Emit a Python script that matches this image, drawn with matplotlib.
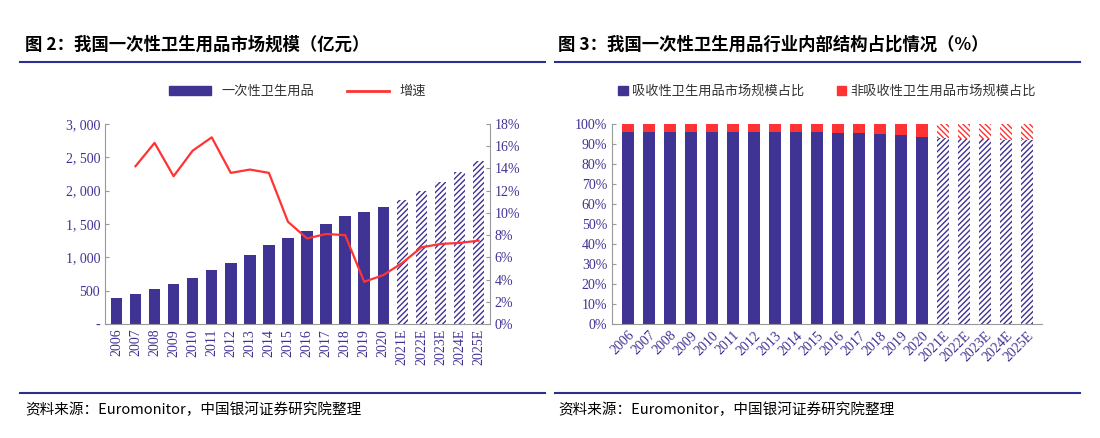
import matplotlib.pyplot as plt
from matplotlib.lines import Line2D
import numpy as np

plt.rcParams["font.family"] = ["Noto Sans CJK SC", "DejaVu Sans"]
plt.rcParams["hatch.linewidth"] = 1.0

years = ["2006", "2007", "2008", "2009", "2010", "2011", "2012", "2013", "2014", "2015",
         "2016", "2017", "2018", "2019", "2020", "2021E", "2022E", "2023E", "2024E", "2025E"]
n_actual = 15
market_size = [390, 450, 525, 595, 690, 805, 910, 1040, 1180, 1290,
               1390, 1500, 1620, 1685, 1755, 1860, 1990, 2130, 2285, 2450]
growth = [None, 14.2, 16.3, 13.3, 15.6, 16.8, 13.6, 13.9, 13.6, 9.2,
          7.7, 8.1, 8.0, 3.8, 4.4, 5.5, 6.9, 7.2, 7.3, 7.5]
absorbent_share = [96.2, 96.2, 96.2, 96.2, 96.1, 96.1, 96.0, 96.0, 96.0, 95.8,
                   95.6, 95.4, 95.1, 94.7, 93.6, 93.0, 92.7, 92.4, 92.1, 91.9]
left_yticks = ["-", "500", "1, 000", "1, 500", "2, 000", "2, 500", "3, 000"]

BLUE = "#3F3393"
RED = "#FF3333"
TXT = "#3F3393"

fig = plt.figure(figsize=(11, 4.38), dpi=100)

# titles, rules and source lines
fig.text(25 / 1100, 1 - 45 / 438, "图 2：我国一次性卫生用品市场规模（亿元）", fontsize=12.5,
         fontweight="bold", va="center")
fig.text(558 / 1100, 1 - 45 / 438, "图 3：我国一次性卫生用品行业内部结构占比情况（%）", fontsize=12.5,
         fontweight="bold", va="center")
for x0, x1 in [(20, 545), (555, 1080)]:
    for y in (62, 393):
        fig.add_artist(Line2D([x0 / 1100, x1 / 1100], [1 - y / 438] * 2, color="#2B2F8F", lw=1.5))
fig.text(25 / 1100, 1 - 410 / 438, "资料来源：Euromonitor，中国银河证券研究院整理", fontsize=10.5,
         style="italic", va="center")
fig.text(558 / 1100, 1 - 410 / 438, "资料来源：Euromonitor，中国银河证券研究院整理", fontsize=10.5,
         style="italic", va="center")

x = np.arange(len(years))

# left chart
ax = fig.add_axes([105 / 1100, 1 - 324 / 438, 385 / 1100, 200 / 438])
for i in x:
    if i < n_actual:
        ax.bar(i, market_size[i], width=0.6, color=BLUE)
    else:
        ax.bar(i, market_size[i], width=0.6, color="white", edgecolor=BLUE, hatch="//////", lw=0)
ax.set_ylim(0, 3000)
ax.set_xlim(-0.6, len(years) - 0.4)
ax.set_yticks(range(0, 3001, 500))
ax.set_yticklabels(left_yticks, fontfamily="Liberation Serif", fontsize=10, color=TXT)
ax.set_xticks(x)
ax.set_xticklabels(years, rotation=90, fontfamily="Liberation Serif", fontsize=10, color=TXT)
for s in ["top", "right"]:
    ax.spines[s].set_visible(False)
for s in ["left", "bottom"]:
    ax.spines[s].set_color("#999999")
ax.tick_params(axis="x", length=0)
ax.tick_params(axis="y", direction="in", color="#999999", length=3)

ax2 = ax.twinx()
gx = [i for i in x if growth[i] is not None]
ax2.plot(gx, [growth[i] for i in gx], color=RED, lw=1.6)
ax2.set_ylim(0, 18)
ax2.set_yticks(range(0, 19, 2))
ax2.set_yticklabels([f"{v}%" for v in range(0, 19, 2)], fontfamily="Liberation Serif",
                    fontsize=10, color=TXT)
for s in ["top", "left", "bottom"]:
    ax2.spines[s].set_visible(False)
ax2.spines["right"].set_color("#999999")
ax2.tick_params(axis="y", direction="in", color="#999999", length=3)

h1 = plt.Rectangle((0, 0), 1, 1, color=BLUE)
h2 = Line2D([], [], color=RED, lw=2)
ax.legend([h1, h2], ["一次性卫生用品", "增速"], loc="lower center", bbox_to_anchor=(0.5, 1.07),
          ncol=2, frameon=False, fontsize=9.5, handlelength=3.2, handleheight=0.6,
          columnspacing=2.5, labelcolor="#333333")

# right chart
ax3 = fig.add_axes([612 / 1100, 1 - 324 / 438, 430 / 1100, 200 / 438])
other_share = [100 - v for v in absorbent_share]
for i in x:
    if i < n_actual:
        ax3.bar(i, absorbent_share[i], width=0.58, color=BLUE)
        ax3.bar(i, other_share[i], bottom=absorbent_share[i], width=0.58, color=RED)
    else:
        ax3.bar(i, absorbent_share[i], width=0.58, color="white", edgecolor=BLUE, hatch="//////", lw=0)
        ax3.bar(i, other_share[i], bottom=absorbent_share[i], width=0.58, color="white",
                edgecolor=RED, hatch="\\\\\\\\\\\\", lw=0)
ax3.set_ylim(0, 100)
ax3.set_xlim(-0.75, len(years) - 0.3)
ax3.set_yticks(range(0, 101, 10))
ax3.set_yticklabels([f"{v}%" for v in range(0, 101, 10)], fontfamily="Liberation Serif",
                    fontsize=10, color=TXT)
ax3.set_xticks(x)
ax3.set_xticklabels(years, rotation=45, ha="right", rotation_mode="anchor",
                    fontfamily="Liberation Serif", fontsize=10, color=TXT)
for s in ["top", "right"]:
    ax3.spines[s].set_visible(False)
for s in ["left", "bottom"]:
    ax3.spines[s].set_color("#999999")
ax3.tick_params(axis="x", length=0)
ax3.tick_params(axis="y", direction="in", color="#999999", length=3)
r1 = plt.Rectangle((0, 0), 1, 1, color=BLUE)
r2 = plt.Rectangle((0, 0), 1, 1, color=RED)
ax3.legend([r1, r2], ["吸收性卫生用品市场规模占比", "非吸收性卫生用品市场规模占比"], loc="lower center",
           bbox_to_anchor=(0.5, 1.07), ncol=2, frameon=False, fontsize=9.5, handlelength=0.7,
           handleheight=0.7, handletextpad=0.3, columnspacing=2.5, labelcolor="#333333")

fig.savefig("out.png", dpi=100)
